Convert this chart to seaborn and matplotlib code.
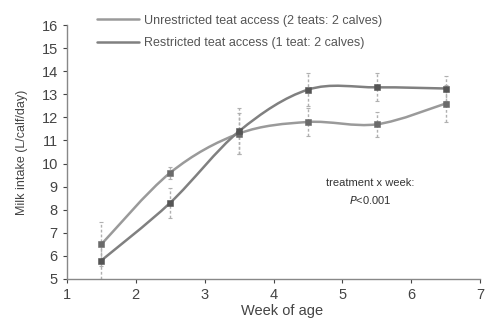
import numpy as np
import pandas as pd
import matplotlib
matplotlib.use('Agg')
import matplotlib.pyplot as plt
from matplotlib.path import Path
from matplotlib.patches import PathPatch
import seaborn as sns

# data
weeks = [1.5, 2.5, 3.5, 4.5, 5.5, 6.5]
unrestricted = [6.5, 9.6, 11.3, 11.8, 11.7, 12.6]
unrestricted_err = [0.95, 0.25, 0.9, 0.6, 0.55, 0.8]
restricted = [5.8, 8.3, 11.4, 13.2, 13.3, 13.25]
restricted_err = [0.8, 0.65, 1.0, 0.7, 0.6, 0.55]
labels = ['Unrestricted teat access (2 teats: 2 calves)',
          'Restricted teat access (1 teat: 2 calves)']

sns.set_style('white')
plt.rcParams['font.family'] = ['Liberation Sans', 'DejaVu Sans']

fig = plt.figure(figsize=(4.88, 3.29), dpi=100)
ax = fig.add_axes([0.137, 0.152, 0.847, 0.772])

line_cols = ['#9a9a9a', '#808080']
mark_cols = ['#6a6a6a', '#555555']


def smooth_path(x, y):
    # Excel-style smoothed line (Catmull-Rom as cubic Bezier)
    pts = np.column_stack([x, y]).astype(float)
    verts = [pts[0]]
    codes = [Path.MOVETO]
    n = len(pts)
    for i in range(n - 1):
        p0 = pts[i - 1] if i > 0 else pts[i]
        p1 = pts[i]
        p2 = pts[i + 1]
        p3 = pts[i + 2] if i + 2 < n else pts[i + 1]
        verts += [p1 + (p2 - p0) / 6, p2 - (p3 - p1) / 6, p2]
        codes += [Path.CURVE4] * 3
    return Path(verts, codes)


for vals, errs, lab, lc, mc in zip([unrestricted, restricted],
                                   [unrestricted_err, restricted_err],
                                   labels, line_cols, mark_cols):
    df = pd.DataFrame({'week': weeks, 'intake': vals})
    eb = ax.errorbar(weeks, vals, yerr=errs, fmt='none', ecolor='#b0b0b0',
                     elinewidth=1.0, capsize=1.5, capthick=0.8, zorder=2)
    eb[2][0].set_linestyle((0, (2, 1.5)))
    ax.add_patch(PathPatch(smooth_path(weeks, vals), facecolor='none',
                           edgecolor=lc, lw=1.8, zorder=3))
    ax.plot([], [], color=lc, lw=1.8, label=lab)
    sns.scatterplot(data=df, x='week', y='intake', marker='s', s=24,
                    color=mc, edgecolor=mc, ax=ax, zorder=4)

ax.set_xlim(1, 7)
ax.set_ylim(5, 16)
ax.set_xticks(range(1, 8))
ax.set_yticks(range(5, 17))
ax.tick_params(axis='both', labelsize=10.5, colors='#444444', length=3,
               direction='out', left=True, bottom=True, width=0.8)
for s in ['top', 'right']:
    ax.spines[s].set_visible(False)
for s in ['left', 'bottom']:
    ax.spines[s].set_color('#888888')
    ax.spines[s].set_linewidth(1.0)

ax.set_xlabel('Week of age', fontsize=10.5, color='#444444', labelpad=3)
ax.xaxis.set_label_coords(0.52, -0.1)
ax.set_ylabel('Milk intake (L/calf/day)', fontsize=9, color='#444444', labelpad=10)

leg = ax.legend(loc='upper left', bbox_to_anchor=(0.06, 1.06), frameon=False,
                fontsize=9, handlelength=3.4, handletextpad=0.4,
                labelspacing=0.85, borderaxespad=0)
for t in leg.get_texts():
    t.set_color('#555555')

ax.text(5.4, 9.15, 'treatment x week:', fontsize=8, color='#333333',
        ha='center', va='center')
ax.text(5.4, 8.4, r'$\it{P}$<0.001', fontsize=8, color='#333333',
        ha='center', va='center')

fig.savefig('out.png', dpi=100)
